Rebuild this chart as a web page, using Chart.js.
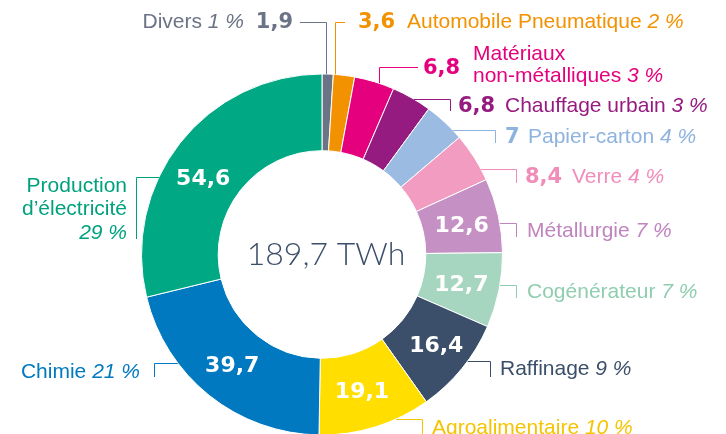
<!DOCTYPE html>
<html lang="fr">
<head>
    <meta charset="UTF-8">
    <title>Consommation d'énergie de l'industrie</title>
    <style>
        html, body {
            margin: 0;
            padding: 0;
            background: #ffffff;
            overflow: hidden;
        }
        #cadre {
            position: relative;
            width: 726px;
            height: 434px;
            overflow: hidden;
        }
        canvas { display: block; }
    </style>
    <script src="https://cdn.jsdelivr.net/npm/chart.js"></script>
</head>
<body>
<div id="cadre"><canvas id="graphique" width="726" height="436"></canvas></div>
<script>
    // --- données ---
    const secteurs = ['Divers', 'Automobile Pneumatique', 'Matériaux non-métalliques', 'Chauffage urbain',
        'Papier-carton', 'Verre', 'Métallurgie', 'Cogénérateur', 'Raffinage', 'Agroalimentaire',
        'Chimie', 'Production d’électricité'];
    const valeurs = [1.9, 3.6, 6.8, 6.8, 7, 8.4, 12.6, 12.7, 16.4, 19.1, 39.7, 54.6];
    const parts = [1, 2, 3, 3, 4, 4, 7, 7, 9, 10, 21, 29];
    const totalTexte = '189,7 TWh';

    const couleurs = ['#6b7386', '#f39200', '#e5007d', '#951b81', '#9bbbe2', '#f29cc2',
        '#c590c3', '#a6d6c0', '#3c4f6a', '#ffde00', '#0079c1', '#00a984'];
    const couleursTexte = ['#6b7386', '#f39200', '#e5007d', '#951b81', '#8fb3df', '#f08dba',
        '#c084bf', '#8fcdb1', '#3c4f6a', '#f5c400', '#0079c1', '#00a27e'];

    // --- placement des étiquettes (mise en page) ---
    // trait : 'haut' = vertical depuis l'anneau puis horizontal ; 'droite'/'gauche' = horizontal puis vertical
    // dv : décalage de la valeur écrite dans l'anneau
    const placements = [
        { trait: 'haut', x: 326, y: 22, fin: 300, val: [293, 28, 'right'], lignes: [[244, 28, 'right', ['Divers '], true]] },
        { trait: 'haut', x: 335, y: 22, fin: 345, val: [358, 28, 'left'], lignes: [[407, 28, 'left', ['Automobile Pneumatique '], true]] },
        { trait: 'haut', x: 379, y: 67, fin: 418, val: [423, 74, 'left'], lignes: [[473, 60, 'left', ['Matériaux'], false], [473, 82, 'left', ['non-métalliques '], true]] },
        { trait: 'droite', y: 99, coude: 450, bas: 111, val: [458, 112, 'left'], lignes: [[505, 112, 'left', ['Chauffage urbain '], true]] },
        { trait: 'droite', y: 130, coude: 495, bas: 143, val: [505, 143, 'left'], lignes: [[528, 143, 'left', ['Papier-carton '], true]] },
        { trait: 'droite', y: 169, coude: 516, bas: 183, val: [525, 183, 'left'], lignes: [[572, 183, 'left', ['Verre '], true]] },
        { trait: 'droite', y: 223, coude: 516, bas: 237, dv: [1, 0], lignes: [[527, 237, 'left', ['Métallurgie '], true]] },
        { trait: 'droite', y: 285, coude: 516, bas: 298, dv: [0, 0], lignes: [[527, 298, 'left', ['Cogénérateur '], true]] },
        { trait: 'droite', y: 361, coude: 490, bas: 377, dv: [4, 0], lignes: [[500, 375, 'left', ['Raffinage '], true]] },
        { trait: 'droite', y: 419, coude: 422, bas: 436, dv: [-2, 0], lignes: [[432, 434, 'left', ['Agroalimentaire '], true]] },
        { trait: 'gauche', y: 363, coude: 154, bas: 377, dv: [-1, -2], lignes: [[140, 378, 'right', ['Chimie '], true]] },
        { trait: 'gauche', y: 177, coude: 136, bas: 239, dv: [-7, 10], lignes: [[127, 192, 'right', ['Production'], false], [127, 215, 'right', ['d’électricité'], false], [127, 239, 'right', [''], true]] }
    ];

    const policeTexte = '21px "Liberation Sans", Arial, sans-serif';
    const policeItalique = 'italic 21px "Liberation Sans", Arial, sans-serif';
    const policeValeur = 'bold 21px "DejaVu Sans", sans-serif';
    const policeValeurInt = 'bold 22px "DejaVu Sans", sans-serif';

    function formater(v) {
        return String(v).replace('.', ',');
    }

    // écrit une suite de morceaux (texte, police) sur une même ligne
    function ecrireLigne(ctx, x, y, align, morceaux) {
        let largeur = 0;
        morceaux.forEach(m => { ctx.font = m[1]; largeur += ctx.measureText(m[0]).width; });
        let cx = align === 'right' ? x - largeur : x;
        ctx.textAlign = 'left';
        morceaux.forEach(m => {
            ctx.font = m[1];
            ctx.fillText(m[0], cx, y);
            cx += ctx.measureText(m[0]).width;
        });
    }

    const etiquettes = {
        id: 'etiquettes',
        afterDraw(chart) {
            const ctx = chart.ctx;
            const arcs = chart.getDatasetMeta(0).data;
            const cxC = arcs[0].x, cyC = arcs[0].y, R = arcs[0].outerRadius;
            ctx.save();
            ctx.textBaseline = 'alphabetic';

            // texte central
            ctx.fillStyle = '#3c4f6a';
            ctx.font = '300 32px Lato, "Open Sans", sans-serif';
            ctx.textAlign = 'center';
            ctx.fillText(totalTexte, cxC + 4, cyC + 10);

            placements.forEach((p, i) => {
                const arc = arcs[i];
                ctx.strokeStyle = couleursTexte[i];
                ctx.fillStyle = couleursTexte[i];
                ctx.lineWidth = 1;
                ctx.beginPath();
                if (p.trait === 'haut') {
                    const y0 = cyC - Math.sqrt(R * R - (p.x - cxC) * (p.x - cxC));
                    ctx.moveTo(p.x + 0.5, y0);
                    ctx.lineTo(p.x + 0.5, p.y + 0.5);
                    ctx.lineTo(p.fin, p.y + 0.5);
                } else {
                    const dx = Math.sqrt(Math.max(R * R - (p.y - cyC) * (p.y - cyC), 0));
                    const x0 = p.trait === 'droite' ? cxC + dx : cxC - dx;
                    ctx.moveTo(x0, p.y + 0.5);
                    ctx.lineTo(p.coude + 0.5, p.y + 0.5);
                    ctx.lineTo(p.coude + 0.5, p.bas);
                }
                ctx.stroke();

                // valeur
                if (p.val) {
                    ctx.font = policeValeur;
                    ctx.textAlign = p.val[2];
                    ctx.fillText(formater(valeurs[i]), p.val[0], p.val[1]);
                } else {
                    const c = arc.getCenterPoint();
                    ctx.fillStyle = '#ffffff';
                    ctx.font = policeValeurInt;
                    ctx.textAlign = 'center';
                    ctx.fillText(formater(valeurs[i]), c.x + p.dv[0], c.y + 8 + p.dv[1]);
                    ctx.fillStyle = couleursTexte[i];
                }

                // nom du secteur et part
                p.lignes.forEach(l => {
                    const morceaux = [[l[3][0], policeTexte]];
                    if (l[4]) morceaux.push([parts[i] + ' %', policeItalique]);
                    ecrireLigne(ctx, l[0], l[1], l[2], morceaux);
                });
            });
            ctx.restore();
        }
    };

    new Chart(document.getElementById('graphique'), {
        type: 'doughnut',
        data: {
            labels: secteurs,
            datasets: [{
                data: valeurs,
                backgroundColor: couleurs,
                borderColor: '#ffffff',
                borderWidth: 1
            }]
        },
        options: {
            responsive: false,
            animation: false,
            cutout: '57.5%',
            layout: { padding: { left: 141, right: 223, top: 73, bottom: 0 } },
            plugins: {
                legend: { display: false },
                tooltip: { enabled: false }
            }
        },
        plugins: [etiquettes]
    });
</script>
</body>
</html>
